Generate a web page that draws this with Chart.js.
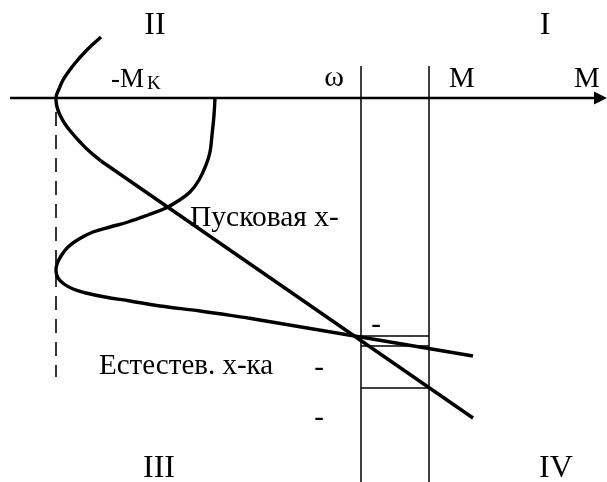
<!DOCTYPE html>
<html>
<head>
<meta charset="utf-8">
<script src="https://cdn.jsdelivr.net/npm/chart.js@4/dist/chart.umd.min.js"></script>
<style>
html,body{margin:0;padding:0;background:#fff;}
#wrap{width:607px;height:482px;}
</style>
</head>
<body>
<div id="wrap"><canvas id="c" width="607" height="482"></canvas></div>
<script>
// ---- data (diagram units: x = torque direction, y = speed downwards) ----
const startCurveX = [101, 92, 84, 76, 69, 63, 59, 56.5, 56, 57, 60, 65, 72, 80, 89, 101];
const startCurveY = [37, 45, 53, 62, 71, 80, 89, 95, 100, 107, 115, 124, 133, 142, 151, 161];
const startLineX = [101, 473];
const startLineY = [161, 418];
const naturalCurveX = [215, 214, 212, 210, 206, 199, 190, 178, 166, 148, 128, 110, 93, 79, 68, 61, 57, 56, 58, 64, 73, 86, 105, 130, 160, 200, 248];
const naturalCurveY = [98, 115, 135, 152, 165, 180, 192, 201, 208, 215, 222, 227, 232, 239, 247, 256, 264, 271, 278, 284, 289, 293, 297, 301, 306, 311, 318];
const naturalLineX = [248, 473];
const naturalLineY = [318, 356];
const axisX = [10, 598];
const axisY = [98, 98];
const omegaLineX = [361, 361];
const loadLineX = [429, 429];
const verticalY = [66, 482];
const levelY = [336, 346, 388];
const levelX = [361, 429];
const criticalX = [56, 56];
const criticalY = [112, 377];
const quadrantLabels = ['II', 'I', 'III', 'IV'];
const axisLabels = ['ω', 'M', 'M'];
const curveLabels = ['Пусковая х-', 'Естестев. х-ка'];

function pts(xs, ys) { return xs.map((x, i) => ({x: x, y: ys[i]})); }

const thick = 3.4, thin = 1.5;
const datasets = [
  {data: pts(startCurveX, startCurveY), borderWidth: thick, tension: 0.4},
  {data: pts(startLineX, startLineY), borderWidth: thick, tension: 0},
  {data: pts(naturalCurveX, naturalCurveY), borderWidth: thick, tension: 0.4},
  {data: pts(naturalLineX, naturalLineY), borderWidth: thick, tension: 0},
  {data: pts(axisX, axisY), borderWidth: 2.4, tension: 0},
  {data: pts(omegaLineX, verticalY), borderWidth: thin, tension: 0},
  {data: pts(loadLineX, verticalY), borderWidth: thin, tension: 0},
  {data: pts(criticalX, criticalY), borderWidth: 1.6, tension: 0, borderDash: [14, 9]}
].concat(levelY.map(y => ({data: pts(levelX, [y, y]), borderWidth: thin, tension: 0})));
datasets.forEach(d => { d.showLine = true; d.pointRadius = 0; d.borderColor = '#000'; d.fill = false; d.borderCapStyle = 'butt'; });

// label placement (separate from data)
const labelPlaces = [
  {t: quadrantLabels[0], x: 155, y: 34, s: 32, a: 'center'},
  {t: quadrantLabels[1], x: 545, y: 34, s: 32, a: 'center'},
  {t: quadrantLabels[2], x: 159, y: 477, s: 32, a: 'center'},
  {t: quadrantLabels[3], x: 556, y: 477, s: 32, a: 'center'},
  {t: axisLabels[0], x: 334, y: 86, s: 30, a: 'center'},
  {t: axisLabels[1], x: 462, y: 87, s: 29, a: 'center'},
  {t: axisLabels[2], x: 587, y: 87, s: 29, a: 'center'},
  {t: '-M', x: 111, y: 87, s: 27, a: 'left'},
  {t: 'K', x: 147, y: 89, s: 19, a: 'left'},
  {t: curveLabels[0], x: 190, y: 226, s: 29.5, a: 'left'},
  {t: curveLabels[1], x: 99, y: 374, s: 29, a: 'left'},
  {t: '-', x: 376, y: 333, s: 29, a: 'center'},
  {t: '-', x: 319, y: 376, s: 29, a: 'center'},
  {t: '-', x: 319, y: 426, s: 29, a: 'center'}
];

const overlay = {
  id: 'overlay',
  afterDatasetsDraw(chart) {
    const ctx = chart.ctx, xs = chart.scales.x, ys = chart.scales.y;
    ctx.save();
    // arrow head at end of the M axis
    const tipX = xs.getPixelForValue(607), baseX = xs.getPixelForValue(594), ay = ys.getPixelForValue(98);
    ctx.fillStyle = '#000';
    ctx.beginPath();
    ctx.moveTo(tipX, ay);
    ctx.lineTo(baseX, ay - 6.5);
    ctx.lineTo(baseX, ay + 6.5);
    ctx.closePath();
    ctx.fill();
    ctx.textBaseline = 'alphabetic';
    labelPlaces.forEach(l => {
      ctx.font = l.s + 'px "Liberation Serif", "Times New Roman", serif';
      ctx.textAlign = l.a;
      ctx.fillText(l.t, xs.getPixelForValue(l.x), ys.getPixelForValue(l.y));
    });
    ctx.restore();
  }
};

new Chart(document.getElementById('c'), {
  type: 'scatter',
  data: {datasets: datasets},
  options: {
    responsive: false,
    devicePixelRatio: 1,
    animation: false,
    layout: {padding: 0},
    plugins: {legend: {display: false}, tooltip: {enabled: false}},
    scales: {
      x: {type: 'linear', min: 0, max: 607, display: false},
      y: {type: 'linear', min: 0, max: 482, reverse: true, display: false}
    }
  },
  plugins: [overlay]
});
</script>
</body>
</html>
